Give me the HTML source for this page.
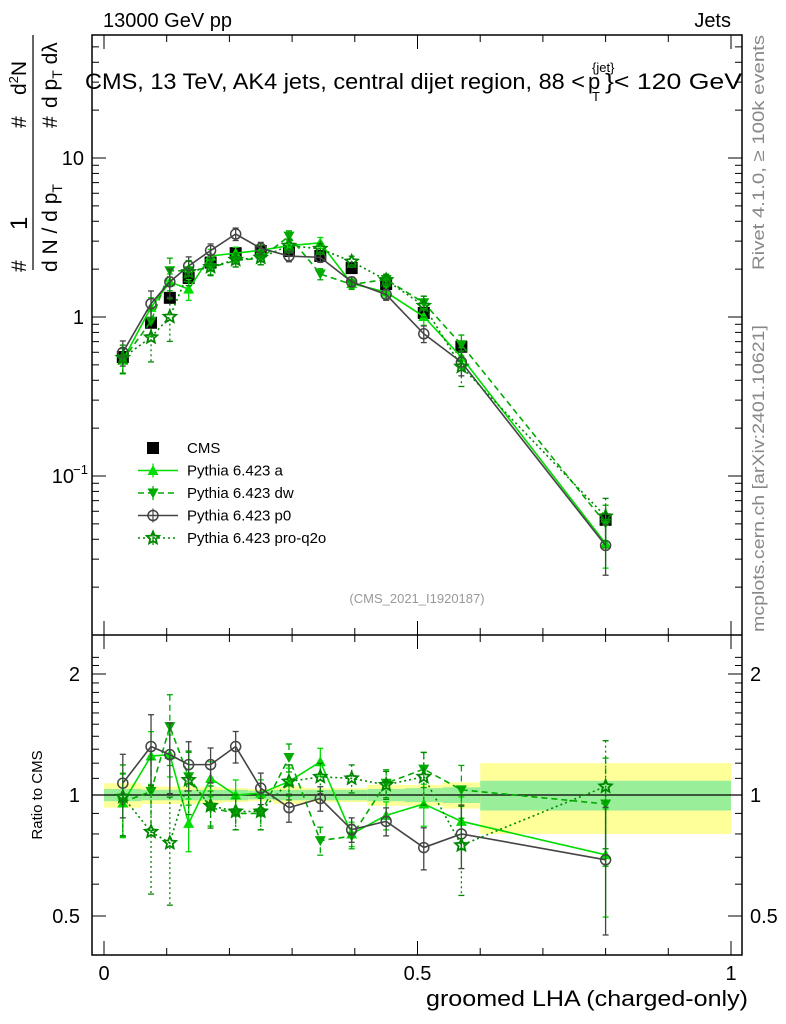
<!DOCTYPE html>
<html><head><meta charset="utf-8"><style>
body{margin:0;background:#fff;}
svg{display:block;font-family:"Liberation Sans",sans-serif;}
</style></head><body>
<svg id="c" width="786" height="1024" viewBox="0 0 786 1024">
<rect x="0" y="0" width="786" height="1024" fill="#fff"/>
<g id="bands"></g>
<g id="series"></g>
<g id="axes" stroke="#000" fill="none"></g>
<text x="103" y="27" font-size="20" textLength="129" lengthAdjust="spacingAndGlyphs">13000 GeV pp</text>
<text x="731" y="27" font-size="20" text-anchor="end">Jets</text>
<g font-size="22">
<text x="85" y="89" textLength="500" lengthAdjust="spacingAndGlyphs">CMS, 13 TeV, AK4 jets, central dijet region, 88 &lt;</text>
<text x="588" y="89">p</text>
<text x="592" y="72" font-size="13">{jet}</text>
<text x="592" y="101" font-size="13">T</text>
<text x="605" y="89" textLength="137" lengthAdjust="spacingAndGlyphs">}&lt; 120 GeV</text>
</g>
<text x="417" y="603" font-size="13" fill="#999" text-anchor="middle">(CMS_2021_I1920187)</text>
<text transform="translate(764,270) rotate(-90)" font-size="17" fill="#888" textLength="235" lengthAdjust="spacingAndGlyphs">Rivet 4.1.0, ≥ 100k events</text>
<text transform="translate(764,632) rotate(-90)" font-size="17" fill="#888" textLength="307" lengthAdjust="spacingAndGlyphs">mcplots.cern.ch [arXiv:2401.10621]</text>
<g font-size="21">
<text transform="translate(26,272) rotate(-90)">#</text>
<text transform="translate(27,230) rotate(-90)" font-size="24">1</text>
<line x1="33" y1="35" x2="33" y2="270" stroke="#000" stroke-width="1.2"/>
<text transform="translate(57,272) rotate(-90)">d N / d p<tspan font-size="14" dy="5">T</tspan></text>
<text transform="translate(26,128) rotate(-90)">#</text>
<text transform="translate(26,95) rotate(-90)">d<tspan font-size="13" dy="-8">2</tspan><tspan dy="8">N</tspan></text>
<text transform="translate(57,128) rotate(-90)">#</text>
<text transform="translate(57,108) rotate(-90)">d p<tspan font-size="14" dy="5">T</tspan><tspan dy="-5"> d</tspan>λ</text>
</g>
<text transform="translate(42,795) rotate(-90)" font-size="15" text-anchor="middle">Ratio to CMS</text>
<text x="748" y="1006" font-size="22" text-anchor="end" textLength="322" lengthAdjust="spacingAndGlyphs">groomed LHA (charged-only)</text>
<g id="legend" font-size="15"></g>
</svg>
<script>
const xCenters=[0.03,0.075,0.105,0.135,0.17,0.21,0.25,0.295,0.345,0.395,0.45,0.51,0.57,0.8];
const binEdges=[0,0.06,0.09,0.12,0.15,0.19,0.23,0.27,0.32,0.37,0.42,0.48,0.54,0.6,1.0];
const cmsValues=[0.56,0.92,1.32,1.76,2.2,2.52,2.6,2.6,2.42,2.03,1.61,1.06,0.65,0.053];
const bandStat=[0.035,0.03,0.03,0.03,0.03,0.03,0.025,0.03,0.03,0.03,0.035,0.04,0.045,0.085];
const bandTotal=[0.07,0.05,0.05,0.05,0.045,0.04,0.035,0.05,0.04,0.04,0.06,0.06,0.075,0.2];
const ratioA=[0.955,1.25,1.26,0.85,1.10,1.0,1.01,1.08,1.21,0.80,0.89,0.95,0.86,0.71];
const ratioDW=[0.96,1.02,1.48,1.11,0.93,0.90,0.90,1.24,0.77,0.79,1.07,1.16,1.03,0.95];
const ratioP0=[1.07,1.32,1.26,1.19,1.19,1.32,1.04,0.93,0.98,0.82,0.86,0.74,0.80,0.69];
const ratioQ2O=[0.99,0.81,0.76,1.09,0.94,0.91,0.91,1.08,1.11,1.10,1.06,1.11,0.75,1.05];
const errA=[0.18,0.15,0.12,0.15,0.1,0.09,0.08,0.08,0.08,0.07,0.08,0.12,0.15,0.3];
const errDW=[0.18,0.2,0.2,0.15,0.1,0.09,0.09,0.08,0.08,0.07,0.08,0.1,0.15,0.3];
const errP0=[0.18,0.2,0.2,0.14,0.1,0.09,0.09,0.08,0.07,0.07,0.08,0.12,0.18,0.35];
const errQ2O=[0.2,0.3,0.3,0.18,0.12,0.1,0.1,0.1,0.08,0.08,0.08,0.15,0.25,0.3];
const ratioTicks=[0.5,1,2];

const NS="http://www.w3.org/2000/svg";
const X0=104,X1=731,L=92,R=742,T=35,MB=635,RB=955;
const sx=v=>X0+(X1-X0)*v;
const sy=v=>317-159*Math.log10(v);
const ry=v=>795-121*Math.log2(v);
function mk(tag,attrs,parent){const e=document.createElementNS(NS,tag);for(const k in attrs)e.setAttribute(k,attrs[k]);parent.appendChild(e);return e;}
const bands=document.getElementById('bands'),ser=document.getElementById('series'),ax=document.getElementById('axes');

for(let i=0;i<xCenters.length;i++){
  const x1=sx(binEdges[i]),x2=sx(binEdges[i+1]);
  const y=mk('rect',{x:x1,y:ry(1+bandTotal[i]),width:x2-x1,height:ry(1-bandTotal[i])-ry(1+bandTotal[i]),fill:'#ffff99'},bands);
  
  
  const g=mk('rect',{x:x1,y:ry(1+bandStat[i]),width:x2-x1,height:ry(1-bandStat[i])-ry(1+bandStat[i]),fill:'#99ee99'},bands);
  
  
}
const one=mk('line',{x1:L,x2:R,y1:ry(1),y2:ry(1),stroke:'#000','stroke-width':1.2},bands);



function marker(type,x,y,col,g){
  let e;
  if(type==='sq')e=mk('rect',{x:x-6,y:y-6,width:12,height:12,fill:'#000'},g);
  else if(type==='up')e=mk('polygon',{points:`${x},${y-5.5} ${x-5.5},${y+4.5} ${x+5.5},${y+4.5}`,fill:col},g);
  else if(type==='dn')e=mk('polygon',{points:`${x},${y+5.5} ${x-5.5},${y-4.5} ${x+5.5},${y-4.5}`,fill:col},g);
  else if(type==='ci')e=mk('circle',{cx:x,cy:y,r:5,fill:'none',stroke:col,'stroke-width':1.5},g);
  else {let p=[];for(let k=0;k<10;k++){const a=-Math.PI/2+k*Math.PI/5,rr=k%2?3:6.5;p.push((x+rr*Math.cos(a))+','+(y+rr*Math.sin(a)));}
    e=mk('polygon',{points:p.join(' '),fill:'none',stroke:col,'stroke-width':1.8},g);}
  return e;
}
const seriesDefs=[
 {name:'pythia-a',ratio:ratioA,err:errA,col:'#00dd00',dash:'',m:'up',label:'Pythia 6.423 a'},
 {name:'pythia-dw',ratio:ratioDW,err:errDW,col:'#00aa00',dash:'6,4',m:'dn',label:'Pythia 6.423 dw'},
 {name:'pythia-p0',ratio:ratioP0,err:errP0,col:'#444',dash:'',m:'ci',label:'Pythia 6.423 p0'},
 {name:'pythia-pro-q2o',ratio:ratioQ2O,err:errQ2O,col:'#008800',dash:'2,3',m:'st',label:'Pythia 6.423 pro-q2o'}
];
function drawSeries(s,vals,scale,g,clipTop,clipBot){
  const pts=xCenters.map((x,i)=>sx(x)+','+scale(vals[i])).join(' ');
  mk('polyline',{points:pts,fill:'none',stroke:s.col,'stroke-width':1.6,'stroke-dasharray':s.dash},g);
  vals.forEach((v,i)=>{
    const x=sx(xCenters[i]);
    const y1=Math.max(clipTop,scale(v*(1+s.err[i]))),y2=Math.min(clipBot,scale(v*(1-s.err[i])));
    mk('line',{x1:x,x2:x,y1:y1,y2:y2,stroke:s.col,'stroke-width':1.3,'stroke-dasharray':s.dash},g);
    mk('line',{x1:x-3,x2:x+3,y1:y1,y2:y1,stroke:s.col,'stroke-width':1.3},g);
    mk('line',{x1:x-3,x2:x+3,y1:y2,y2:y2,stroke:s.col,'stroke-width':1.3},g);
    marker(s.m,x,scale(v),s.col,g);
  });
}
const cg=mk('g',{},ser);


cmsValues.forEach((v,i)=>{const x=sx(xCenters[i]);
  mk('line',{x1:x,x2:x,y1:sy(v*(1+bandTotal[i])),y2:sy(v*(1-bandTotal[i])),stroke:'#000','stroke-width':1.3},cg);
  marker('sq',x,sy(v),'#000',cg);});
seriesDefs.forEach(s=>{
  const g=mk('g',{},ser);
  
  
  drawSeries(s,cmsValues.map((c,i)=>c*s.ratio[i]),sy,g,T,MB);
  const g2=mk('g',{},ser);
  
  
  drawSeries(s,s.ratio,ry,g2,MB,RB);
});

mk('rect',{x:L,y:T,width:R-L,height:RB-T,'stroke-width':1.5},ax);
mk('line',{x1:L,x2:R,y1:MB,y2:MB,'stroke-width':1.5},ax);
function txt(s,x,y,anchor,size,par){const t=mk('text',{x:x,y:y,'text-anchor':anchor,'font-size':size,fill:'#000',stroke:'none'},par||document.getElementById('c'));t.textContent=s;return t;}
for(let k=0;k<=10;k++){const v=k/10,x=sx(v),len=(k%5==0)?14:7;
  [[MB,-1],[RB,-1],[T,1],[MB,1]].forEach(([y,d])=>mk('line',{x1:x,x2:x,y1:y,y2:y+d*len,'stroke-width':1},ax));}
[[0,'0'],[0.5,'0.5'],[1,'1']].forEach(([v,s])=>{const t=txt(s,sx(v),980,'middle',20);});
for(let d=-2;d<=1;d++)for(let m=1;m<10;m++){const v=m*Math.pow(10,d),y=sy(v);if(y<T||y>MB)continue;const len=m==1?14:7;
  mk('line',{x1:L,x2:L+len,y1:y,y2:y,'stroke-width':1},ax);mk('line',{x1:R,x2:R-len,y1:y,y2:y,'stroke-width':1},ax);}
let t=txt('10',84,165,'end',20);
t=txt('1',84,324,'end',20);
t=txt('10',74,483,'end',20);
t=txt('−1',88,474,'end',13);
for(let v=0.5;v<=2.3;v+=0.1){const y=ry(v);if(y<MB||y>RB)continue;const major=ratioTicks.some(r=>Math.abs(r-v)<1e-6);const len=major?14:7;
  mk('line',{x1:L,x2:L+len,y1:y,y2:y,'stroke-width':1},ax);mk('line',{x1:R,x2:R-len,y1:y,y2:y,'stroke-width':1},ax);}
ratioTicks.forEach(v=>{const s=v===0.5?'0.5':String(v);let a=txt(s,80,ry(v)+7,'end',20);
  let b=txt(s,750,ry(v)+7,'start',20);});

const lg=document.getElementById('legend');
const entries=[{label:'CMS',m:'sq',col:'#000',dash:null}].concat(seriesDefs);
entries.forEach((e,i)=>{const y=448+i*22.5;const g=mk('g',{},lg);
  
  
  if(e.dash!==null){mk('line',{x1:138,x2:178,y1:y,y2:y,stroke:e.col,'stroke-width':1.6,'stroke-dasharray':e.dash},g);
    mk('line',{x1:153,x2:153,y1:y-7,y2:y+7,stroke:e.col,'stroke-width':1.2},g);}
  marker(e.m,153,y,e.col,g);
  txt(e.label,187,y+5,'start',15,g);});
</script>
</body></html>
